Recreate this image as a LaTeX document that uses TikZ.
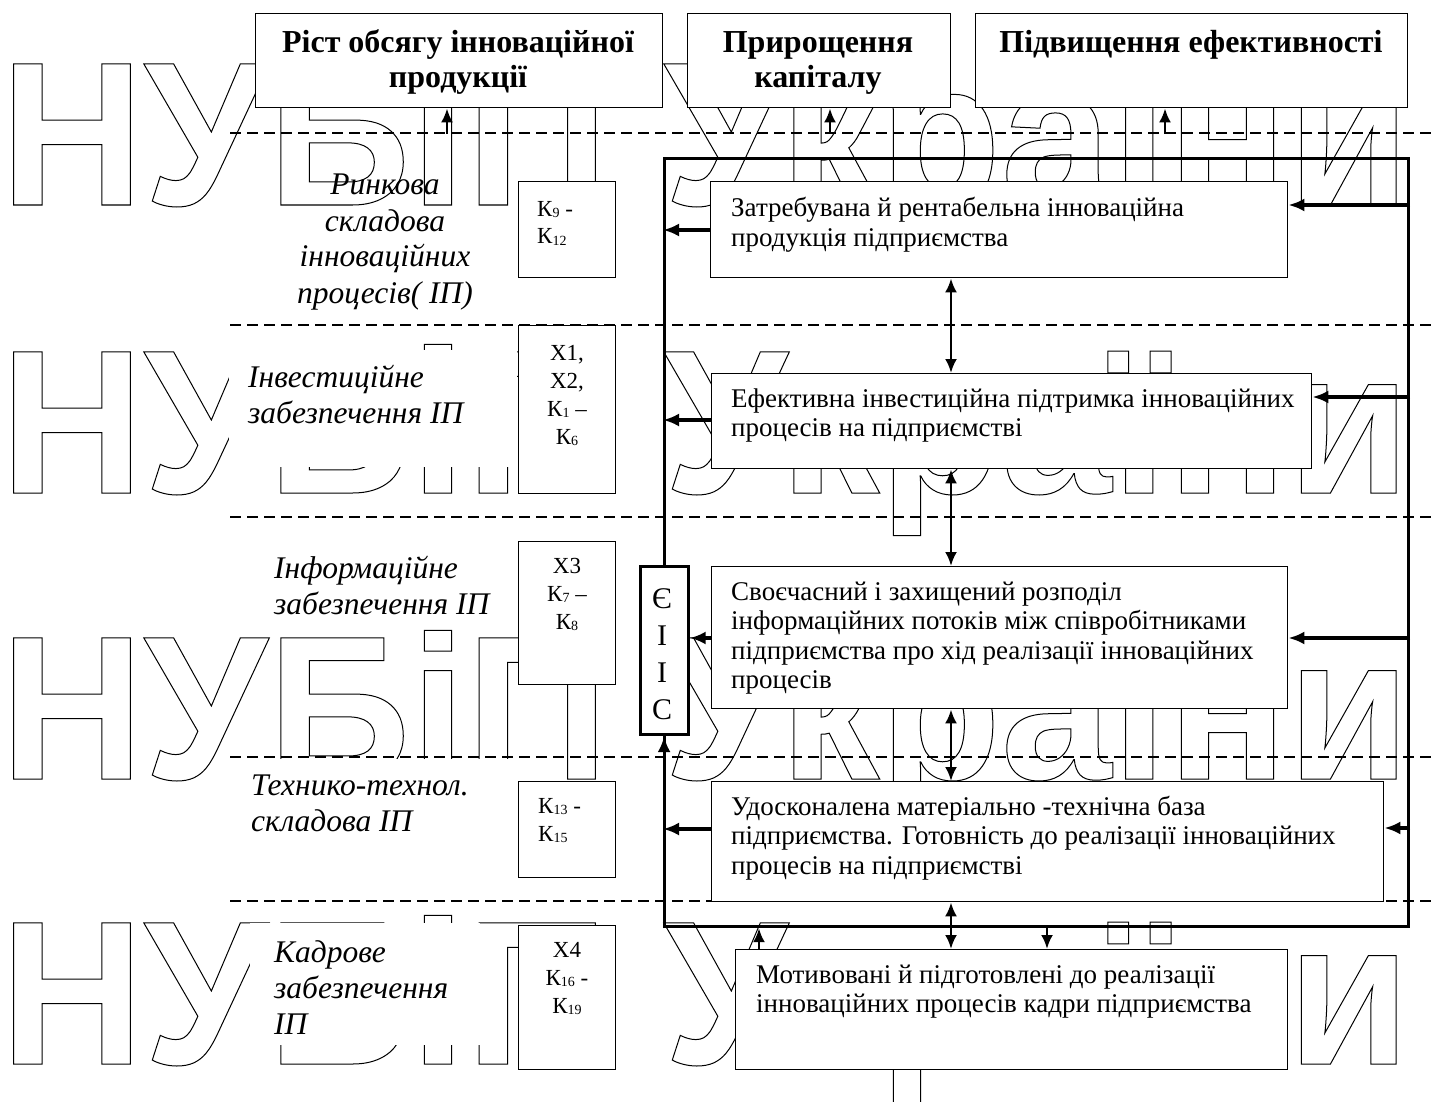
\documentclass[tikz,border=0pt]{standalone}
\usepackage{fontspec}
\setmainfont{Liberation Serif}
\newfontfamily\wmfont{Liberation Sans}[FakeStretch=0.97]
\usetikzlibrary{arrows.meta}
\newcommand\olon{\special{pdf:literal 1 Tr 1.0 w}}
\newcommand\oloff{\special{pdf:literal 0 Tr}}
\newcommand\ks[1]{\raisebox{-1.5pt}{\fontsize{14}{14}\selectfont #1}}
\begin{document}
\begin{tikzpicture}[x=1pt,y=-1pt,
  wm/.style={inner sep=0pt, anchor=base west, font=\wmfont\bfseries\fontsize{205}{205}\selectfont},
  box/.style={draw, line width=1.4pt, fill=white, inner sep=0pt, anchor=north west},
  thickbox/.style={draw, line width=3.2pt, inner sep=0pt, anchor=north west},
  dsh/.style={line width=1.4pt, dash pattern=on 11pt off 6pt},
  ttl/.style={inner sep=0pt, anchor=base, font=\bfseries\fontsize{32}{35}\selectfont},
  body/.style={inner sep=0pt, anchor=base west, font=\fontsize{27}{29.5}\selectfont},
  ktx/.style={inner sep=0pt, font=\fontsize{23}{28}\selectfont},
  lab/.style={inner sep=0pt, font=\itshape\fontsize{31.5}{36}\selectfont},
  arr/.style={line width=3.2pt, -{Latex[length=16pt,width=13pt]}},
  arrv/.style={line width=2.6pt, -{Latex[length=14pt,width=12pt]}},
  dbl/.style={line width=2.6pt, {Latex[length=14pt,width=12pt]}-{Latex[length=14pt,width=12pt]}},
]
\useasboundingbox (0,0) rectangle (1437,1102);

% watermark
\node[wm] (wm1) at (0,205) {\olon НУБіП України\oloff};
\node[wm] (wm2) at (0,493) {\olon НУБіП України\oloff};
\node[wm] (wm3) at (0,779) {\olon НУБіП України\oloff};
\node[wm] (wm4) at (0,1064) {\olon НУБіП України\oloff};

% white label backgrounds
\fill[white] (229,350) rectangle (517,467);
\fill[white] (229,759) rectangle (517,782);
\fill[white] (250,923) rectangle (480,1045);

% dashed separators
\foreach \yy in {133,325,517,757,901}
  \draw[dsh] (230,\yy) -- (1437,\yy);

% frame
\node[thickbox, minimum width=744pt, minimum height=768pt] (fr) at (663,157) {};

% title boxes
\node[box, minimum width=407pt, minimum height=94pt] (tA) at (255,13) {};
\node[box, minimum width=263pt, minimum height=94pt] (tB) at (687,13) {};
\node[box, minimum width=432pt, minimum height=94pt] (tC) at (975,13) {};
\node[ttl] (ttA) at (458,53) {\parbox[t]{400pt}{\centering Ріст обсягу інноваційної\\продукції}};
\node[ttl] (ttB) at (818,53) {\parbox[t]{260pt}{\centering Прирощення\\капіталу}};
\node[ttl] (ttC) at (1191,53) {\parbox[t]{430pt}{\centering Підвищення ефективності}};

% K boxes
\node[box, minimum width=97pt, minimum height=96pt] (k1) at (518,181) {};
\node[box, minimum width=97pt, minimum height=168pt] (k2) at (518,325) {};
\node[box, minimum width=97pt, minimum height=143pt] (k3) at (518,541) {};
\node[box, minimum width=97pt, minimum height=96pt] (k4) at (518,781) {};
\node[box, minimum width=97pt, minimum height=144pt] (k5) at (518,925) {};
\node[ktx, anchor=base west] (kt1) at (537,216) {\parbox[t]{75pt}{\raggedright К\ks{9} -\\К\ks{12}}};
\node[ktx, anchor=base] (kt2) at (567,360) {\parbox[t]{90pt}{\centering X1,\\X2,\\К\ks{1} –\\К\ks{6}}};
\node[ktx, anchor=base] (kt3) at (567,573) {\parbox[t]{90pt}{\centering X3\\К\ks{7} –\\К\ks{8}}};
\node[ktx, anchor=base west] (kt4) at (538,813) {\parbox[t]{75pt}{\raggedright К\ks{13} -\\К\ks{15}}};
\node[ktx, anchor=base] (kt5) at (567,957) {\parbox[t]{90pt}{\centering X4\\К\ks{16} -\\К\ks{19}}};

% content boxes
\node[box, minimum width=577pt, minimum height=96pt] (b1) at (710,181) {};
\node[box, minimum width=600pt, minimum height=95pt] (b2) at (711,373) {};
\node[box, minimum width=576pt, minimum height=142pt] (b3) at (711,566) {};
\node[box, minimum width=672pt, minimum height=120pt] (b4) at (711,781) {};
\node[box, minimum width=552pt, minimum height=120pt] (b5) at (735,949) {};
\node[body] (bt1) at (731,217) {\parbox[t]{560pt}{\raggedright Затребувана й рентабельна інноваційна\\продукція підприємства}};
\node[body] (bt2) at (731,407) {\parbox[t]{590pt}{\raggedright Ефективна інвестиційна підтримка інноваційних\\процесів на підприємстві}};
\node[body] (bt3) at (731,600) {\parbox[t]{570pt}{\raggedright Своєчасний і захищений розподіл\\інформаційних потоків між співробітниками\\підприємства про хід реалізації інноваційних\\процесів}};
\node[body] (bt4) at (731,815) {\parbox[t]{660pt}{\raggedright Удосконалена матеріально -технічна база\\підприємства. Готовність до реалізації інноваційних\\процесів на підприємстві}};
\node[body] (bt5) at (756,983) {\parbox[t]{530pt}{\raggedright Мотивовані й підготовлені до реалізації\\інноваційних процесів кадри підприємства}};

% EIIS box
\node[thickbox, fill=white, minimum width=48pt, minimum height=168pt] (eiis) at (638.5,565) {};
\node[inner sep=0pt, anchor=base, font=\fontsize{30}{37}\selectfont] (eiist) at (662,608) {\parbox[t]{40pt}{\centering Є\\І\\І\\С}};

% left labels
\node[lab, anchor=base] (l1) at (385,195) {\parbox[t]{260pt}{\centering Ринкова\\складова\\інноваційних\\процесів( ІП)}};
\node[lab, anchor=base west] (l2) at (248,387) {\parbox[t]{260pt}{\raggedright Інвестиційне\\забезпечення ІП}};
\node[lab, anchor=base west] (l3) at (274,578) {\parbox[t]{240pt}{\raggedright Інформаційне\\забезпечення ІП}};
\node[lab, anchor=base west] (l4) at (251,795) {\parbox[t]{260pt}{\raggedright Технико-технол.\\складова ІП}};
\node[lab, anchor=base west] (l5) at (274,962) {\parbox[t]{240pt}{\raggedright Кадрове\\забезпечення\\ІП}};

% helper coordinates
\coordinate (ax1) at (447,134);
\coordinate (ax2) at (830,134);
\coordinate (ax3) at (1165,134);
\coordinate (r1) at (0,205);
\coordinate (r2) at (0,397);
\coordinate (r3) at (0,638);
\coordinate (r4) at (0,828);
\coordinate (q1) at (0,230);
\coordinate (q2) at (0,420);
\coordinate (q3) at (0,638);
\coordinate (q4) at (0,829);
\coordinate (vx) at (951,0);
\coordinate (dx) at (1047,0);
\coordinate (ux) at (759,0);

% title arrows
\draw[arrv] (ax1) -- (ax1 |- tA.south);
\draw[arrv] (ax2) -- (ax2 |- tB.south);
\draw[arrv] (ax3) -- (ax3 |- tC.south);

% arrows from frame right edge into boxes
\draw[arr] (fr.east |- r1) -- (b1.east |- r1);
\draw[arr] (fr.east |- r2) -- (b2.east |- r2);
\draw[arr] (fr.east |- r3) -- (b3.east |- r3);
\draw[arr] (fr.east |- r4) -- (b4.east |- r4);

% arrows from boxes to left line
\draw[arr] (b1.west |- q1) -- (fr.west |- q1);
\draw[arr] (b2.west |- q2) -- (fr.west |- q2);
\draw[arr] (b3.west |- q3) -- (eiis.east |- q3);
\draw[arr] (b4.west |- q4) -- (fr.west |- q4);
\draw[arr] (eiis.south |- fr.south) -- (eiis.south);

% vertical links
\draw[dbl] (b1.south -| vx) -- (b2.north -| vx);
\draw[dbl] (b2.south -| vx) -- (b3.north -| vx);
\draw[dbl] (b3.south -| vx) -- (b4.north -| vx);
\draw[dbl] (b4.south -| vx) -- (b5.north -| vx);
\draw[arrv] (fr.south -| dx) -- (b5.north -| dx);
\draw[arrv] (b5.north -| ux) -- (fr.south -| ux);
\end{tikzpicture}
\end{document}
